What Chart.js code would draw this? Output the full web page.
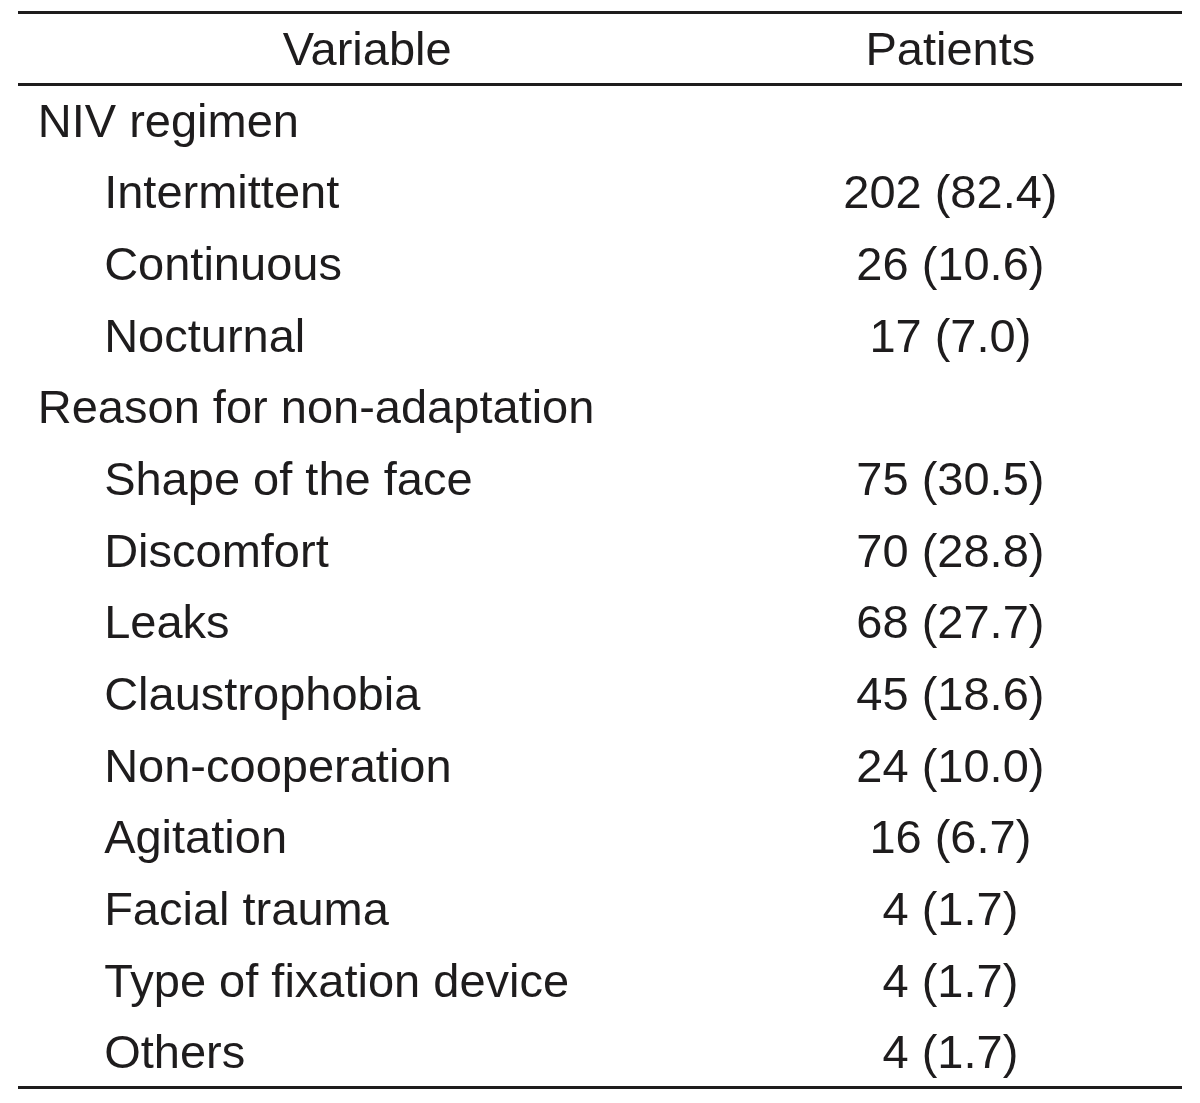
<!DOCTYPE html>
<html>
<head>
<meta charset="utf-8">
<script src="https://cdn.jsdelivr.net/npm/chart.js@4/dist/chart.umd.min.js"></script>
<style>
  html, body { margin: 0; padding: 0; background: #fff; }
  #wrap { width: 1200px; height: 1103px; }
</style>
</head>
<body>
<div id="wrap"><canvas id="table-chart" width="1200" height="1103"></canvas></div>
<script>
// ── Data ───────────────────────────────────────────
const headers = ['Variable', 'Patients'];
const rowLabels = [
  'NIV regimen',
  'Intermittent',
  'Continuous',
  'Nocturnal',
  'Reason for non-adaptation',
  'Shape of the face',
  'Discomfort',
  'Leaks',
  'Claustrophobia',
  'Non-cooperation',
  'Agitation',
  'Facial trauma',
  'Type of fixation device',
  'Others',
];
const groupRows = ['NIV regimen', 'Reason for non-adaptation'];
const patientCounts   = [null, 202, 26, 17, null, 75, 70, 68, 45, 24, 16, 4, 4, 4];
const patientPercents = [null, 82.4, 10.6, 7.0, null, 30.5, 28.8, 27.7, 18.6, 10.0, 6.7, 1.7, 1.7, 1.7];

// ── Layout (x scale runs 0..100 across the table width) ──
const COL = { header: 30, group: 1.7, item: 7.4, patients: 80.1 };
const FONT = '47px "Liberation Sans", Arial, sans-serif';
const INK = '#1e1c1d';

const yLabels = [headers[0], ...rowLabels];

function cellText(i) {
  if (patientCounts[i] == null) return '';
  return `${patientCounts[i]} (${patientPercents[i].toFixed(1)})`;
}

const variableCol = yLabels.map((lab, i) => ({
  x: i === 0 ? COL.header : (groupRows.includes(lab) ? COL.group : COL.item),
  y: lab,
  text: lab,
  align: i === 0 ? 'center' : 'left',
}));
const patientsCol = yLabels.map((lab, i) => ({
  x: COL.patients,
  y: lab,
  text: i === 0 ? headers[1] : cellText(i - 1),
  align: 'center',
}));

// ── Plugin: rules + cell text ──────────────────────
const tablePlugin = {
  id: 'tablePlugin',
  afterDatasetsDraw(chart) {
    const { ctx, chartArea, scales } = chart;
    const y = scales.y;

    ctx.save();
    ctx.strokeStyle = INK;
    ctx.lineWidth = 3;
    [-0.5, 0.5, yLabels.length - 0.5].forEach(v => {
      const py = Math.round(y.getPixelForValue(v)) + 0.5;
      ctx.beginPath();
      ctx.moveTo(chartArea.left, py);
      ctx.lineTo(chartArea.right, py);
      ctx.stroke();
    });

    ctx.fillStyle = INK;
    ctx.font = FONT;
    ctx.textBaseline = 'alphabetic';
    chart.data.datasets.forEach((ds, di) => {
      const meta = chart.getDatasetMeta(di);
      meta.data.forEach((el, i) => {
        const cell = ds.data[i];
        if (!cell.text) return;
        ctx.textAlign = cell.align;
        ctx.fillText(cell.text, el.x, el.y + 17);
      });
    });
    ctx.restore();
  }
};

new Chart(document.getElementById('table-chart'), {
  type: 'scatter',
  data: {
    datasets: [
      { label: headers[0], data: variableCol, pointRadius: 0 },
      { label: headers[1], data: patientsCol, pointRadius: 0 },
    ],
  },
  options: {
    responsive: false,
    animation: false,
    devicePixelRatio: 1,
    events: [],
    layout: { padding: { left: 18, right: 18, top: 12, bottom: 16 } },
    plugins: { legend: { display: false }, tooltip: { enabled: false } },
    scales: {
      x: { type: 'linear', min: 0, max: 100, display: false },
      y: { type: 'category', labels: yLabels, offset: true, display: false },
    },
  },
  plugins: [tablePlugin],
});
</script>
</body>
</html>
